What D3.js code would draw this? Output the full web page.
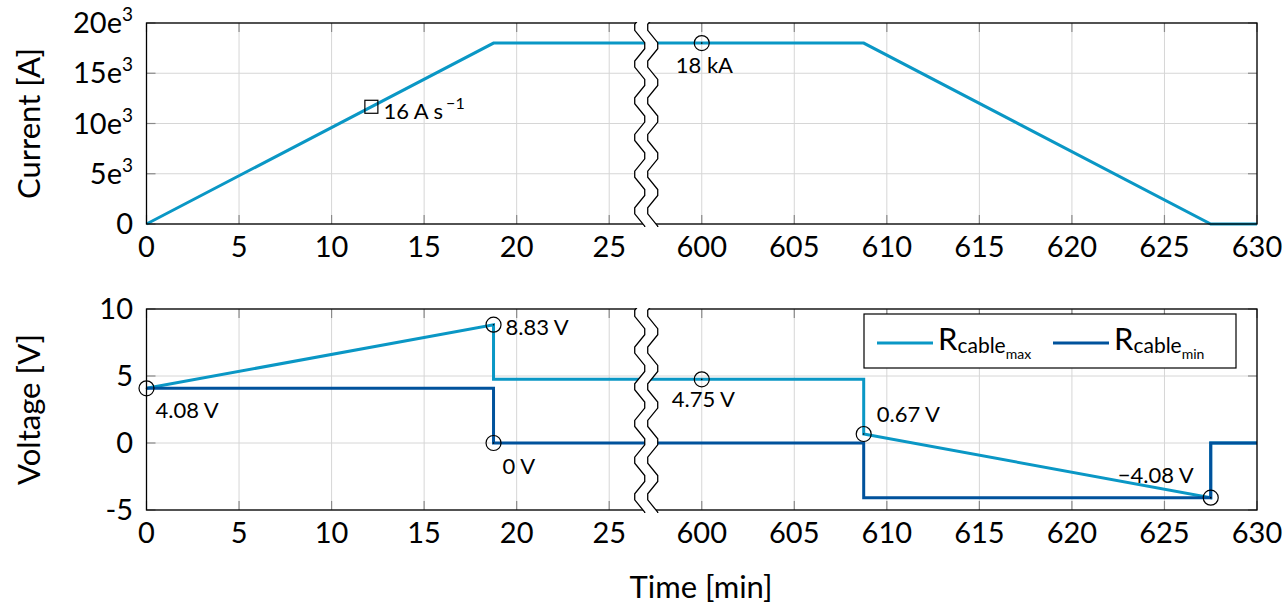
<!DOCTYPE html>
<html>
<head>
<meta charset="utf-8">
<script src="https://cdn.jsdelivr.net/npm/d3@7"></script>
<style>
  body { margin: 0; background: #fff; }
  svg { font-family: Lato, "Open Sans", sans-serif; }
  .grid line { stroke: #d6d6d6; stroke-width: 1; }
  .tick-in { stroke: #8a8a8a; stroke-width: 1.2; }
  .frame { fill: none; stroke: #000; stroke-width: 1.3; }
</style>
</head>
<body>
<script>
// time axis: 0..27 min, then a break, then 597..630 min
const xTickValues = [0, 5, 10, 15, 20, 25, 600, 605, 610, 615, 620, 625, 630]
const breakAt = 27
const breakOffset = 570

// current profile [min, A]
const currentTime = [0, 18.75, 608.75, 627.5, 630]
const currentVal = [0, 18000, 18000, 0, 0]
const currentTicks = [0, 5000, 10000, 15000, 20000]
const currentTickLabels = [['0', ''], ['5e', '3'], ['10e', '3'], ['15e', '3'], ['20e', '3']]

// voltage profiles [min, V]
const rmaxTime = [0, 18.75, 18.75, 608.75, 608.75, 627.5, 627.5, 630]
const rmaxVal = [4.08, 8.83, 4.75, 4.75, 0.67, -4.08, 0, 0]
const rminTime = [0, 18.75, 18.75, 608.75, 608.75, 627.5, 627.5, 630]
const rminVal = [4.08, 4.08, 0, 0, -4.08, -4.08, 0, 0]
const voltTicks = [-5, 0, 5, 10]

// annotations
const currentNotes = [
  { t: 12.15, v: 11664, mark: 'square', text: '16 A s', sup: '\u22121', dx: 12, dy: 12 },
  { t: 600, v: 18000, mark: 'circle', text: '18 kA', dx: -26, dy: 30 }
]
const voltNotes = [
  { t: 0, v: 4.08, text: '4.08 V', dx: 9, dy: 30 },
  { t: 18.75, v: 8.83, text: '8.83 V', dx: 12, dy: 10 },
  { t: 18.75, v: 0, text: '0 V', dx: 9, dy: 31 },
  { t: 600, v: 4.75, text: '4.75 V', dx: -30, dy: 28 },
  { t: 608.75, v: 0.67, text: '0.67 V', dx: 13, dy: -12 },
  { t: 627.5, v: -4.08, text: '\u22124.08 V', dx: -93, dy: -15 }
]

const colMax = '#0a97c5'
const colMin = '#00529c'

let width = 1287, height = 608

let svg = d3.select('body').append('svg')
.attr('width', width)
.attr('height', height)

let xs = d3.scaleLinear().domain([0, 60]).range([146.5, 1257])
const xPos = t => xs(t <= breakAt ? t : t - breakOffset)

let yC = d3.scaleLinear().domain([0, 20000]).range([224, 23])
let yV = d3.scaleLinear().domain([-5, 10]).range([510, 309])

function panel(y, yTicks, labelFn, title) {
  let g = svg.append('g')
  let [y0, y1] = y.range()

  let grid = g.append('g').attr('class', 'grid')
  grid.selectAll('.gx').data(xTickValues).enter().append('line')
  .attr('x1', d => xPos(d)).attr('x2', d => xPos(d))
  .attr('y1', y1).attr('y2', y0)
  grid.selectAll('.gy').data(yTicks).enter().append('line')
  .attr('x1', xs.range()[0]).attr('x2', xs.range()[1])
  .attr('y1', d => y(d)).attr('y2', d => y(d))

  // small inward ticks
  xTickValues.forEach(d => {
    g.append('line').attr('class', 'tick-in')
    .attr('x1', xPos(d)).attr('x2', xPos(d)).attr('y1', y0).attr('y2', y0 - 9)
    g.append('line').attr('class', 'tick-in')
    .attr('x1', xPos(d)).attr('x2', xPos(d)).attr('y1', y1).attr('y2', y1 + 9)
  })
  yTicks.forEach(d => {
    g.append('line').attr('class', 'tick-in')
    .attr('x1', xs.range()[0]).attr('x2', xs.range()[0] + 9).attr('y1', y(d)).attr('y2', y(d))
    g.append('line').attr('class', 'tick-in')
    .attr('x1', xs.range()[1]).attr('x2', xs.range()[1] - 9).attr('y1', y(d)).attr('y2', y(d))
  })

  // x tick labels
  g.selectAll('.xl').data(xTickValues).enter().append('text')
  .attr('x', d => xPos(d))
  .attr('y', y0 + 33)
  .attr('text-anchor', 'middle')
  .attr('font-size', 29)
  .text(d => d)

  // y tick labels
  yTicks.forEach((d, i) => {
    let [main, sup] = labelFn(d, i)
    let t = g.append('text')
    .attr('x', 133)
    .attr('y', y(d) + 10)
    .attr('text-anchor', 'end')
    .attr('font-size', 29)
    t.append('tspan').text(main)
    if (sup) t.append('tspan').attr('font-size', 19).attr('dy', -12).text(sup)
  })

  g.append('text')
  .attr('transform', `translate(40,${(y0 + y1) / 2}) rotate(-90)`)
  .attr('text-anchor', 'middle')
  .attr('font-size', 31)
  .text(title)

  return g
}

panel(yC, currentTicks, (d, i) => currentTickLabels[i], 'Current [A]')
panel(yV, voltTicks, d => [String(d), ''], 'Voltage [V]')

let line = y => d3.line().x(d => xPos(d[0])).y(d => y(d[1]))

svg.append('path')
.datum(d3.zip(currentTime, currentVal))
.attr('d', line(yC))
.attr('fill', 'none').attr('stroke', colMax).attr('stroke-width', 3)

svg.append('path')
.datum(d3.zip(rmaxTime, rmaxVal))
.attr('d', line(yV))
.attr('fill', 'none').attr('stroke', colMax).attr('stroke-width', 3)

svg.append('path')
.datum(d3.zip(rminTime, rminVal))
.attr('d', line(yV))
.attr('fill', 'none').attr('stroke', colMin).attr('stroke-width', 3)

// frames
;[yC, yV].forEach(y => {
  let [y0, y1] = y.range()
  svg.append('rect').attr('class', 'frame')
  .attr('x', xs.range()[0]).attr('y', y1)
  .attr('width', xs.range()[1] - xs.range()[0]).attr('height', y0 - y1)
})

// axis break zigzag
function zigzag(y) {
  let [y0, y1] = y.range()
  let xc = xs(breakAt) - 0.5
  let half = 18.35, flat = 3
  let left = [], right = []
  let k = 0
  for (let yy = y1 - 14; yy < y0 + 20; yy += half, k++) {
    let off = (k % 2 === 0) ? 0 : -10
    left.push([xc - 1 + off, yy - flat], [xc - 1 + off, yy + flat])
    right.push([xc + 12 + off, yy - flat], [xc + 12 + off, yy + flat])
  }
  let g = svg.append('g')
  let clipId = 'clip' + Math.round(y1)
  g.append('clipPath').attr('id', clipId)
  .append('rect').attr('x', xc - 30).attr('y', y1 - 1).attr('width', 60).attr('height', y0 - y1 + 4)
  let gg = g.append('g').attr('clip-path', `url(#${clipId})`)
  gg.append('path')
  .attr('d', 'M' + left.concat(right.slice().reverse()).join('L') + 'Z')
  .attr('fill', '#fff')
  ;[left, right].forEach(pts => {
    gg.append('path')
    .attr('d', d3.line()(pts))
    .attr('fill', 'none').attr('stroke', '#000').attr('stroke-width', 1.3)
  })
}
zigzag(yC)
zigzag(yV)

// annotations
function note(y, n, isSquare) {
  let cx = xPos(n.t), cy = y(n.v)
  if (isSquare) {
    svg.append('rect').attr('x', cx - 6.5).attr('y', cy - 6.5).attr('width', 13).attr('height', 13)
    .attr('fill', 'none').attr('stroke', '#000').attr('stroke-width', 1.2)
  } else {
    svg.append('circle').attr('cx', cx).attr('cy', cy).attr('r', 7.5)
    .attr('fill', 'none').attr('stroke', '#000').attr('stroke-width', 1.2)
    svg.append('circle').attr('cx', cx).attr('cy', cy).attr('r', 0.8).attr('fill', '#000')
  }
  let t = svg.append('text')
  .attr('x', cx + n.dx).attr('y', cy + n.dy)
  .attr('font-size', 22)
  t.append('tspan').text(n.text)
  if (n.sup) t.append('tspan').attr('font-size', 16).attr('dy', -10).attr('dx', 3).text(n.sup)
}
currentNotes.forEach(n => note(yC, n, n.mark === 'square'))
voltNotes.forEach(n => note(yV, n, false))

// legend
let lg = svg.append('g')
lg.append('rect')
.attr('x', 864).attr('y', 314).attr('width', 372).attr('height', 54)
.attr('fill', '#fff').attr('stroke', '#000').attr('stroke-width', 1.2)
const legendItems = [['max', colMax, 877], ['min', colMin, 1053]]
legendItems.forEach(([sub, col, x]) => {
  lg.append('line').attr('x1', x).attr('x2', x + 56).attr('y1', 343).attr('y2', 343)
  .attr('stroke', col).attr('stroke-width', 3)
  let t = lg.append('text').attr('x', x + 61).attr('y', 350).attr('font-size', 31)
  t.append('tspan').text('R')
  t.append('tspan').attr('font-size', 21).attr('dy', 3).text('cable')
  t.append('tspan').attr('font-size', 14).attr('dy', 6).text(sub)
})

svg.append('text')
.attr('x', 701).attr('y', 598)
.attr('text-anchor', 'middle')
.attr('font-size', 31)
.text('Time [min]')
</script>
</body>
</html>
